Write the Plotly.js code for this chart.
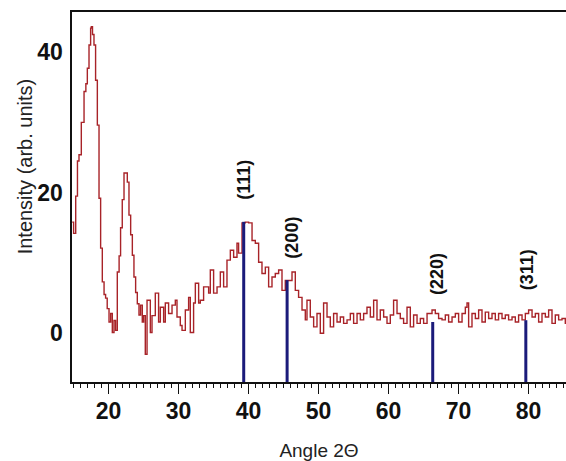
<!DOCTYPE html>
<html>
<head>
<meta charset="utf-8">
<script src="https://cdn.plot.ly/plotly-3.0.1.min.js"></script>
<style>
html,body{margin:0;padding:0;background:#fff;}
#chart{width:566px;height:461px;}
</style>
</head>
<body>
<div id="chart"></div>
<script>
// XRD pattern (angle 2θ, intensity in arb. units)
const angle = [14.8, 15.0, 15.3, 15.55, 15.77, 16.1, 16.49, 16.75, 16.96, 17.2, 17.43, 17.53, 17.7, 17.91, 18.14, 18.39, 18.63, 18.86, 19.1, 19.35, 19.57, 19.8, 20.06, 20.3, 20.53, 20.77, 21.0, 21.24, 21.5, 21.71, 21.95, 22.2, 22.45, 22.67, 22.91, 23.15, 23.39, 23.62, 23.86, 24.1, 24.34, 24.57, 24.81, 25.0, 25.24, 25.49, 25.96, 26.2, 26.67, 27.14, 27.39, 27.86, 28.1, 28.57, 29.06, 29.53, 29.77, 30.24, 30.49, 30.96, 31.43, 31.67, 32.14, 32.39, 32.86, 33.1, 33.57, 34.29, 34.53, 35.0, 35.49, 35.96, 36.43, 36.91, 37.39, 37.86, 38.34, 38.57, 39.06, 39.53, 40.0, 40.49, 40.96, 41.43, 41.91, 42.39, 42.86, 43.34, 43.81, 44.29, 44.77, 45.24, 45.71, 46.2, 46.67, 47.14, 47.63, 48.1, 48.34, 48.81, 49.29, 49.77, 50.24, 50.71, 51.2, 51.67, 52.14, 52.63, 53.1, 53.57, 54.06, 54.53, 55.0, 55.49, 55.96, 56.43, 56.91, 57.39, 57.86, 58.34, 58.81, 59.29, 59.77, 60.24, 60.71, 61.2, 61.67, 62.14, 62.63, 63.1, 63.57, 64.06, 64.53, 65.0, 65.49, 65.71, 66.2, 66.67, 67.14, 67.63, 68.1, 68.57, 69.06, 69.53, 70.0, 70.49, 70.96, 71.2, 71.43, 71.91, 72.39, 72.86, 73.34, 73.81, 74.29, 74.77, 75.24, 75.71, 76.2, 76.67, 77.14, 77.63, 78.1, 78.57, 79.06, 79.53, 80.0, 80.49, 80.96, 81.43, 81.91, 82.39, 82.86, 83.34, 83.81, 84.29, 84.77, 85.24, 85.4];
const intensity = [15.8, 14.2, 19.5, 24.5, 25.4, 30, 34.4, 35.5, 37.7, 41, 43.4, 43.6, 42.5, 41, 36, 29.6, 19.2, 12.1, 7.3, 5.5, 5, 3.5, 1.6, 2.8, 0.1, 1.8, 0.4, 8.7, 11, 15, 19, 22.8, 22.8, 21.5, 16.8, 14, 11.1, 8, 5.8, 4.2, 2.6, 4, 1.6, 2.5, -3, 4.7, 0.1, 2.5, 5.7, 1.6, 3.7, 1.6, 4.3, 2.8, 4, 4.7, 2.3, 1.1, 0.4, 3.3, 5.1, 0.1, 4.3, 7.1, 4.3, 4.7, 6.6, 5.7, 9, 5.7, 6.6, 8.7, 6.6, 10.4, 11.8, 10.8, 12.8, 11.4, 15.7, 15.8, 15.7, 13.2, 12.8, 10.1, 8.5, 9.4, 6.6, 8, 8.5, 9, 6.1, 7.5, 7.5, 8.7, 6.1, 5.1, 3.3, 1.9, 4.7, 2.3, 0.9, 2.8, 0, 4.3, 2.3, 0.9, 2.8, 1.6, 2.3, 1.4, 1.9, 2.8, 1.4, 2.8, 1.9, 2.8, 3.7, 2.3, 4.7, 1.9, 3.3, 2.3, 1.4, 2.6, 4.7, 2.8, 2.1, 1.4, 3.7, 0.9, 2.6, 1.4, 2.1, 1.4, 2.8, 2.8, 3.3, 2.8, 2.1, 1.9, 2.6, 1.6, 2.3, 2.8, 1.6, 2.8, 3.7, 4.3, 0.9, 2.8, 2.1, 3.3, 1.6, 3, 2.1, 2.8, 1.9, 2.8, 2.1, 2.6, 1.9, 2.3, 1.6, 2.6, 1.9, 2.8, 3.3, 2.3, 2.8, 1.6, 2.8, 2.3, 3.3, 1.4, 2.6, 1.9, 2.1, 1.4, 2.0];

// Reference reflections
const peakAngle = [39.3, 45.5, 66.3, 79.6];
const peakTop = [15.85, 7.55, 1.6, 1.85];
const peakLabel = ['(111)', '(200)', '(220)', '(311)'];
const labelAngle = [39.3, 46.2, 66.9, 79.8];
const labelY = [21.8, 13.6, 8.4, 9.0];

const yTicks = [0, 20, 40];
const xTicks = [20, 30, 40, 50, 60, 70, 80];

const xRange = [14.77, 85.34];
const yRange = [-6.94, 45.7];

const FONT = 'Arial, "Liberation Sans", sans-serif';

// Build stick traces for the reflections
const stickX = [], stickY = [];
peakAngle.forEach((a, i) => {
  stickX.push(a, a, null);
  stickY.push(yRange[0], peakTop[i], null);
});

const traces = [
  {
    x: angle, y: intensity, type: 'scatter', mode: 'lines',
    line: {color: '#a82328', width: 1.4, shape: 'hv'},
    hoverinfo: 'skip'
  },
  {
    x: stickX, y: stickY, type: 'scatter', mode: 'lines',
    line: {color: '#1b1b7a', width: 3},
    hoverinfo: 'skip'
  }
];

const annotations = peakLabel.map((t, i) => ({
  x: labelAngle[i], y: labelY[i], xref: 'x', yref: 'y',
  text: t, showarrow: false, textangle: -90,
  font: {family: FONT, size: 18, color: '#111', weight: 'bold'}
}));
annotations.push({
  xref: 'paper', yref: 'paper', x: -0.095, y: 0.583,
  xanchor: 'center', yanchor: 'middle',
  text: 'Intensity (arb. units)', showarrow: false, textangle: -90,
  font: {family: FONT, size: 20, color: '#222'}
});

const layout = {
  width: 566, height: 461,
  margin: {l: 72, r: 0, t: 12, b: 79},
  paper_bgcolor: '#fff', plot_bgcolor: '#fff',
  showlegend: false,
  xaxis: {
    range: xRange, tickvals: xTicks, ticktext: xTicks.map(String),
    showgrid: false, zeroline: false,
    showline: true, linecolor: '#111', linewidth: 2, mirror: true,
    ticks: 'outside', ticklen: 10, tickwidth: 1.5, tickcolor: '#111',
    ticklabelstandoff: -3,
    minor: {dtick: 1, ticks: 'outside', ticklen: 4, tickwidth: 1, tickcolor: '#111'},
    tickfont: {family: FONT, size: 23, color: '#111', weight: 'bold'},
    title: {text: 'Angle 2Θ', standoff: 22,
      font: {family: FONT, size: 19, color: '#222'}}
  },
  yaxis: {
    range: yRange, tickvals: yTicks, ticktext: yTicks.map(String),
    showgrid: false, zeroline: false,
    showline: true, linecolor: '#111', linewidth: 2.5,
    ticks: '', ticklabelstandoff: 2,
    tickfont: {family: FONT, size: 23, color: '#111', weight: 'bold'}
  },
  annotations: annotations
};

Plotly.newPlot('chart', traces, layout, {displayModeBar: false, staticPlot: true});
</script>
</body>
</html>
